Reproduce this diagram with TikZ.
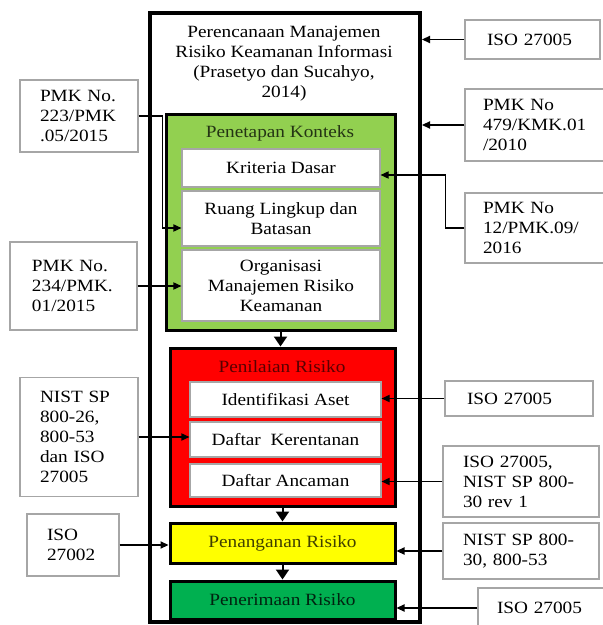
\documentclass[tikz,border=0pt]{standalone}
\usepackage{fontspec}
\setmainfont[FakeStretch=1.12]{Liberation Serif}
\usetikzlibrary{arrows.meta}
\definecolor{hijau}{HTML}{92D050}
\definecolor{merah}{HTML}{FF0000}
\definecolor{kuning}{HTML}{FFFF00}
\definecolor{hijautua}{HTML}{00B050}
\begin{document}
\begin{tikzpicture}[x=0.5pt,y=-0.5pt,
  font=\fontsize{8.6}{10}\selectfont,
  tahap/.style={draw=black,line width=1.5pt,minimum width=112.5pt},
  substep/.style={draw=gray!70,fill=white,line width=0.6pt,align=center,inner sep=1pt},
  ref/.style={draw=gray!70,fill=white,line width=0.6pt,align=left,inner ysep=1pt},
  arr/.style={-{Triangle[length=4pt,width=3.6pt]},line width=0.6pt},
  turun/.style={-{Triangle[length=5pt,width=6.5pt]},line width=1pt}]
\path[use as bounding box,clip] (0,0) rectangle (603,625);

\node[draw,line width=2pt,minimum width=135pt,minimum height=304.5pt] (rencana) at (285,317.5) {};
\node[align=center] (judul) at (284,64) {Perencanaan Manajemen\\Risiko Keamanan Informasi\\(Prasetyo dan Sucahyo,\\2014)};

\node[tahap,fill=hijau,minimum width=114.5pt,minimum height=107.5pt] (konteks) at (280.5,222.5) {};
\node[text=hijau!25!black] (judulkonteks) at (280,133) {Penetapan Konteks};
\node[substep,minimum width=99pt,minimum height=19pt] (kriteria) at (281,168) {Kriteria Dasar};
\node[substep,minimum width=99pt,minimum height=27.5pt] (ruang) at (281,218.5) {Ruang Lingkup dan\\Batasan};
\node[substep,minimum width=99pt,minimum height=35.5pt] (organisasi) at (281,285.5) {Organisasi\\Manajemen Risiko\\Keamanan};

\node[tahap,fill=merah,minimum height=79pt] (penilaian) at (282.5,427) {};
\node[text=merah!35!black] (judulpenilaian) at (282,367) {Penilaian Risiko};
\node[substep,minimum width=95.5pt,minimum height=17.5pt] (identifikasi) at (285.5,399.5) {Identifikasi Aset};
\node[substep,minimum width=95.5pt,minimum height=17.5pt] (kerentanan) at (285.5,439.5) {Daftar~ Kerentanan};
\node[substep,minimum width=95.5pt,minimum height=16.5pt] (ancaman) at (285.5,480.5) {Daftar Ancaman};

\node[tahap,fill=kuning,minimum height=20pt,text=kuning!25!black] (penanganan) at (282.5,543) {Penanganan Risiko};
\node[tahap,fill=hijautua,minimum height=19pt,text=hijautua!20!black] (penerimaan) at (282.5,600) {Penerimaan Risiko};

\node[ref,inner xsep=10pt,text width=39pt,minimum height=36pt] (pmk223) at (79,116) {PMK No.\\223/PMK\\.05/2015};
\node[ref,inner xsep=11pt,text width=41.5pt,minimum height=44pt] (pmk234) at (73.5,286) {PMK No.\\234/PMK.\\01/2015};
\node[ref,inner xsep=10pt,text width=39pt,minimum height=59.5pt] (nist26) at (79,437) {NIST SP\\800-26,\\800-53\\dan ISO\\27005};
\node[ref,inner xsep=10pt,text width=26pt,minimum height=31pt] (iso27002) at (73,545) {ISO\\27002};

\node[ref,inner xsep=11pt,text width=45.5pt,minimum height=19.5pt] (iso1) at (532.5,39.5) {ISO 27005};
\node[ref,inner xsep=9pt,text width=62pt,minimum height=36pt] (pmk479) at (545,125) {PMK No\\479/KMK.01\\/2010};
\node[ref,inner xsep=9pt,text width=62pt,minimum height=35pt] (pmk12) at (545,228) {PMK No\\12/PMK.09/\\2016};
\node[ref,inner xsep=11pt,text width=52pt,minimum height=17.5pt] (iso2) at (519,398.5) {ISO 27005};
\node[ref,inner xsep=10pt,text width=58pt,minimum height=35.5pt] (iso3) at (521,481.5) {ISO 27005,\\NIST SP 800-\\30 rev 1};
\node[ref,inner xsep=10pt,text width=58pt,minimum height=28pt] (nist30) at (521,551) {NIST SP 800-\\30, 800-53};
\node[ref,inner xsep=9.5pt,text width=63pt,minimum height=20pt] (iso4) at (560,608) {ISO 27005};

\draw[arr] (iso1.west) -- (iso1.west -| rencana.east);
\draw[arr] (pmk479.west) -- (pmk479.west -| rencana.east);
\draw[arr] (pmk12.west) -- ++(-19,0) |- ([yshift=-3.5pt]kriteria.east);
\draw[arr] (pmk223.east) -- ++(24,0) |- ([yshift=-4.75pt]ruang.west);
\draw[arr] (pmk234.east) -- (pmk234.east -| organisasi.west);
\draw[arr] (nist26.east) -- (nist26.east -| kerentanan.west);
\draw[arr] (iso27002.east) -- (iso27002.east -| penanganan.west);
\draw[arr] (iso2.west) -- (iso2.west -| identifikasi.east);
\draw[arr] (iso3.west) -- (iso3.west -| ancaman.east);
\draw[arr] (nist30.west) -- (nist30.west -| penanganan.east);
\draw[arr] (iso4.west) -- (iso4.west -| penerimaan.east);

\draw[turun] (konteks.south) -- (konteks.south |- penilaian.north);
\draw[turun] (penilaian.south) -- (penanganan.north);
\draw[turun] (penanganan.south) -- (penerimaan.north);
\end{tikzpicture}
\end{document}
